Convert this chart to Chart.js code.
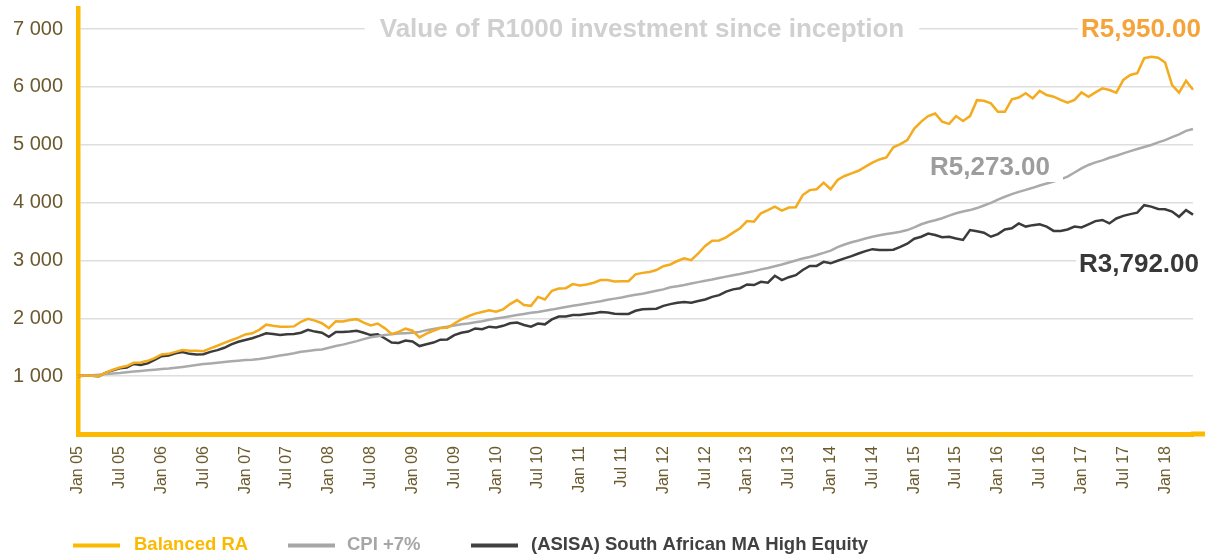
<!DOCTYPE html>
<html>
<head>
<meta charset="utf-8">
<title>Value of R1000 investment since inception</title>
<script src="https://cdn.jsdelivr.net/npm/chart.js@4.4.1/dist/chart.umd.min.js"></script>
<style>
  html, body { margin: 0; padding: 0; background: #ffffff; }
  canvas { display: block; }
</style>
</head>
<body>
<canvas id="chart" width="1205" height="555"></canvas>
<script>
// Month names and years used to build the monthly category axis (Jan 05 – May 18)
const monthNames = ['Jan', 'Feb', 'Mar', 'Apr', 'May', 'Jun', 'Jul', 'Aug', 'Sep', 'Oct', 'Nov', 'Dec'];
const years = ['05', '06', '07', '08', '09', '10', '11', '12', '13', '14', '15', '16', '17', '18'];

// Series names
const seriesNames = ['Balanced RA', 'CPI +7%', '(ASISA) South African MA High Equity'];

// Value of R1000 invested, month by month
const balancedRA = [
  1000, 1015, 1005, 1000, 1060, 1110, 1150, 1175, 1230, 1235,
  1265, 1310, 1375, 1385, 1420, 1450, 1440, 1440, 1430, 1480,
  1525, 1575, 1620, 1665, 1720, 1740, 1800, 1890, 1870, 1855,
  1855, 1860, 1940, 1990, 1960, 1915, 1830, 1950, 1945, 1970,
  1985, 1925, 1875, 1910, 1830, 1730, 1765, 1820, 1785, 1670,
  1735, 1785, 1830, 1835, 1910, 1980, 2035, 2080, 2110, 2140,
  2115, 2155, 2245, 2315, 2230, 2215, 2370, 2325, 2475, 2515,
  2520, 2590, 2565, 2585, 2615, 2660, 2660, 2635, 2640, 2640,
  2760, 2785, 2800, 2835, 2900, 2930, 2990, 3035, 3005, 3120,
  3250, 3340, 3345, 3400, 3480, 3555, 3680, 3670, 3815, 3870,
  3930, 3860, 3915, 3920, 4130, 4215, 4230, 4345, 4230, 4390,
  4460, 4505, 4550, 4620, 4690, 4745, 4780, 4955, 5010, 5080,
  5280, 5400, 5495, 5540, 5400, 5360, 5495, 5410, 5495, 5770,
  5760, 5715, 5570, 5570, 5785, 5815, 5890, 5800, 5930, 5860,
  5830, 5775, 5725, 5775, 5905, 5830, 5905, 5975, 5945, 5900,
  6120, 6205, 6235, 6495, 6520, 6505, 6420, 6030, 5900, 6105,
  5950
];

const cpiPlus7 = [
  1000, 1008, 1015, 1025, 1035, 1045, 1055, 1068, 1080, 1090,
  1100, 1112, 1122, 1132, 1145, 1160, 1175, 1192, 1208, 1220,
  1232, 1245, 1258, 1268, 1278, 1285, 1295, 1315, 1335, 1355,
  1375, 1395, 1420, 1435, 1450, 1462, 1490, 1520, 1545, 1575,
  1605, 1640, 1672, 1690, 1710, 1722, 1735, 1742, 1750, 1765,
  1795, 1815, 1835, 1855, 1875, 1895, 1910, 1930, 1950, 1975,
  1995, 2015, 2035, 2055, 2075, 2095, 2110, 2130, 2150, 2175,
  2195, 2215, 2235, 2255, 2275, 2295, 2320, 2340, 2360, 2385,
  2405, 2425, 2450, 2475, 2500, 2535, 2555, 2575, 2600, 2625,
  2650, 2670, 2695, 2720, 2745, 2765, 2790, 2815, 2845, 2870,
  2900, 2930, 2965, 3000, 3035, 3060, 3095, 3130, 3170, 3230,
  3275, 3315, 3345, 3380, 3410, 3435, 3455, 3475, 3495, 3525,
  3570, 3625, 3665, 3695, 3730, 3775, 3815, 3845, 3870, 3905,
  3950, 3995, 4050, 4100, 4145, 4185, 4220, 4255, 4295, 4330,
  4365, 4400, 4450, 4520, 4590, 4650, 4695, 4730, 4775, 4810,
  4850, 4890, 4925, 4960, 4995, 5040, 5080, 5130, 5180, 5240,
  5273
];

const asisaHighEquity = [
  1000, 1015, 1005, 1000, 1060, 1100, 1135, 1150, 1210, 1195,
  1220, 1280, 1345, 1355, 1395, 1415, 1385, 1375, 1380, 1420,
  1450, 1490, 1550, 1595, 1625, 1655, 1695, 1740, 1730, 1710,
  1725, 1730, 1750, 1800, 1770, 1750, 1680, 1765, 1765, 1770,
  1785, 1750, 1710, 1725, 1655, 1580, 1575, 1615, 1600, 1520,
  1550, 1580, 1630, 1635, 1710, 1750, 1770, 1825, 1810, 1855,
  1840, 1870, 1915, 1925, 1885, 1855, 1910, 1895, 1980, 2030,
  2030, 2055, 2055, 2075, 2085, 2110, 2100, 2080, 2075, 2075,
  2130, 2155, 2160, 2165, 2215, 2245, 2270, 2280, 2270, 2300,
  2325, 2370, 2400, 2460, 2500, 2520, 2585, 2575, 2630, 2615,
  2735, 2660, 2710, 2745, 2835, 2905, 2905, 2975, 2950, 2995,
  3035, 3075, 3120, 3160, 3195, 3180, 3180, 3185, 3235, 3290,
  3375, 3410, 3465, 3440, 3400, 3410, 3380, 3355, 3525, 3505,
  3480, 3410, 3455, 3535, 3555, 3640, 3585, 3610, 3625, 3585,
  3510, 3510, 3535, 3585, 3570, 3625, 3680, 3700, 3640, 3725,
  3770, 3800, 3825, 3955, 3930, 3890, 3885, 3845, 3755, 3870,
  3792
];

// Value-axis tick labels
const yTicks = [1000, 2000, 3000, 4000, 5000, 6000, 7000];

// Monthly category labels
const categories = [];
years.forEach(y => monthNames.forEach(m => categories.push(m + ' ' + y)));
categories.length = balancedRA.length;

const FONT = '"Liberation Sans", Arial, Helvetica, sans-serif';
const AXIS_ORANGE = '#fbb900';
const TICK_BROWN = '#6b5a2d';
const lineColors = ['#f4ab1e', '#aaaaaa', '#3b3b3b'];
const legendColors = ['#fbb900', '#a6a6a6', '#414141'];
const endLabelColors = ['#f5a43b', '#9d9d9d', '#383838'];

// Legend layout: where each key line and its text start
const legendLineX = [73, 288, 471];
const legendTextX = [134, 347, 531];

function thousandsSpace(v) {
  return String(v).replace(/\B(?=(\d{3})+(?!\d))/g, ' ');
}
function rands(v) {
  const parts = v.toFixed(2).split('.');
  return 'R' + parts[0].replace(/\B(?=(\d{3})+(?!\d))/g, ',') + '.' + parts[1];
}

// White-backed text tag drawn on the canvas
function tag(ctx, text, x, baseline, align, color, padL, padR) {
  ctx.font = 'bold 26px ' + FONT;
  const w = ctx.measureText(text).width;
  const left = align === 'right' ? x - w : align === 'center' ? x - w / 2 : x;
  ctx.fillStyle = '#ffffff';
  ctx.fillRect(left - padL, baseline - 24, w + padL + padR, 31);
  ctx.fillStyle = color;
  ctx.textAlign = 'left';
  ctx.textBaseline = 'alphabetic';
  ctx.fillText(text, left, baseline);
}

const annotations = {
  id: 'annotations',
  afterDatasetsDraw(chart) {
    const { ctx, chartArea } = chart;
    ctx.save();
    // x axis rule runs on to the right edge
    ctx.strokeStyle = AXIS_ORANGE;
    ctx.lineWidth = 5;
    ctx.beginPath();
    ctx.moveTo(chartArea.right - 2, chartArea.bottom);
    ctx.lineTo(chart.width, chartArea.bottom);
    ctx.stroke();

    // heading
    tag(ctx, 'Value of R1000 investment since inception', 642, 37, 'center', '#d0d0d0', 15, 15);

    // closing values of each series
    const last = arr => arr[arr.length - 1];
    tag(ctx, rands(last(balancedRA)), 1201, 37, 'right', endLabelColors[0], 3, 4);
    tag(ctx, rands(last(cpiPlus7)), 930, 175, 'left', endLabelColors[1], 4, 13);
    tag(ctx, rands(last(asisaHighEquity)), 1199, 272, 'right', endLabelColors[2], 3, 4);
    ctx.restore();
  },
  afterDraw(chart) {
    const { ctx } = chart;
    ctx.save();
    ctx.font = 'bold 18.5px ' + FONT;
    ctx.textAlign = 'left';
    ctx.textBaseline = 'alphabetic';
    chart.data.datasets.forEach((ds, i) => {
      ctx.fillStyle = legendColors[i];
      ctx.fillRect(legendLineX[i], 543.5, 47, 4);
      ctx.fillText(ds.label, legendTextX[i], 550);
    });
    ctx.restore();
  }
};

const seriesData = [balancedRA, cpiPlus7, asisaHighEquity];

new Chart(document.getElementById('chart'), {
  type: 'line',
  data: {
    labels: categories,
    datasets: seriesNames.map((name, i) => ({
      label: name,
      data: seriesData[i],
      borderColor: lineColors[i],
      backgroundColor: lineColors[i],
      borderWidth: 2.5,
      pointRadius: 0,
      pointHoverRadius: 0,
      tension: 0,
      fill: false
    }))
  },
  options: {
    responsive: false,
    animation: false,
    devicePixelRatio: 1,
    layout: { padding: { left: 0, top: 8, right: 12, bottom: 60 } },
    plugins: {
      legend: { display: false },
      title: { display: false },
      tooltip: { enabled: false }
    },
    scales: {
      x: {
        type: 'category',
        offset: false,
        grid: { display: false, drawTicks: false },
        border: { display: true, color: AXIS_ORANGE, width: 5 },
        afterBuildTicks: scale => {
          scale.ticks = scale.ticks.filter(t => t.value % 6 === 0);
        },
        afterFit: scale => {
          scale.height = 61;
          scale.paddingLeft = 0;
          scale.paddingRight = 0;
        },
        ticks: {
          autoSkip: false,
          minRotation: 90,
          maxRotation: 90,
          padding: 12,
          color: TICK_BROWN,
          font: { family: FONT, size: 16 }
        }
      },
      y: {
        min: 0,
        max: 7363,
        afterBuildTicks: scale => {
          scale.ticks = yTicks.map(v => ({ value: v }));
        },
        afterFit: scale => {
          scale.width = 78;
          scale.paddingTop = 0;
          scale.paddingBottom = 0;
        },
        grid: { color: '#dedede', lineWidth: 1.5, drawTicks: false },
        border: { display: true, color: AXIS_ORANGE, width: 4.5 },
        ticks: {
          padding: 15,
          color: TICK_BROWN,
          font: { family: FONT, size: 20 },
          callback: v => thousandsSpace(v)
        }
      }
    }
  },
  plugins: [annotations]
});
</script>
</body>
</html>
